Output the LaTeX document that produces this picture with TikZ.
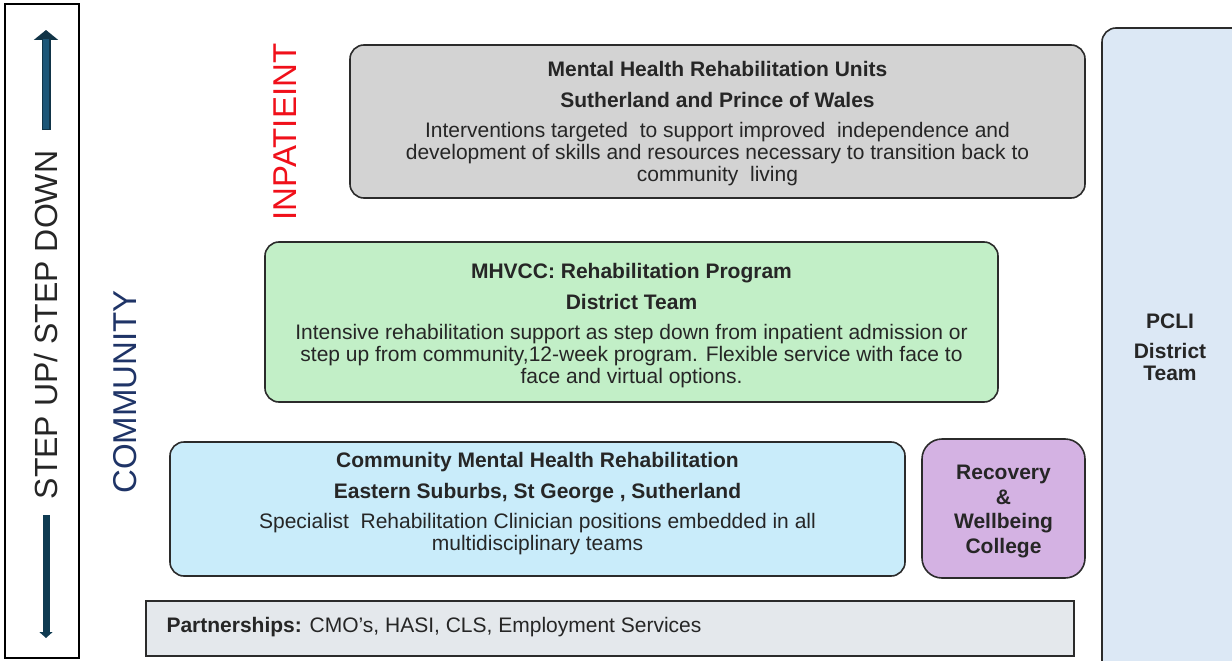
\documentclass[tikz,border=0pt]{standalone}
\usepackage{fontspec}
\setmainfont{Liberation Sans}
\usetikzlibrary{arrows.meta,positioning}
\definecolor{boxText}{HTML}{262626}
\definecolor{boxLine}{HTML}{2B2B2B}
\definecolor{inpatFill}{HTML}{D3D3D3}
\definecolor{mhvccFill}{HTML}{C2EFC7}
\definecolor{cmhrFill}{HTML}{C9ECFA}
\definecolor{rwcFill}{HTML}{D4B2E3}
\definecolor{pcliFill}{HTML}{DCE8F5}
\definecolor{partFill}{HTML}{E4E8EC}
\definecolor{upTeal}{HTML}{1C5677}
\definecolor{downTeal}{HTML}{0F3B52}
\definecolor{commNavy}{HTML}{1F3467}
\definecolor{inpatRed}{HTML}{F0101A}

\begin{document}
\begin{tikzpicture}[x=1pt,y=-1pt,
    tier/.style={draw=boxLine, line width=1.6pt, rounded corners=14pt, inner sep=0pt},
    tiertext/.style={align=center, text=boxText, font=\fontsize{21}{22}\selectfont},
    side/.style={rotate=90, font=\fontsize{33}{36}\selectfont}]
    \useasboundingbox (0,0) rectangle (1232,661);

    % step up / step down frame on the left
    \node[draw, line width=1.4pt, minimum width=74, minimum height=654, inner sep=0pt] (frame) at (42,331) {};
    \coordinate (upS) at (46,130);
    \coordinate (upE) at (46,30);
    \coordinate (downS) at (46,515);
    \coordinate (downE) at (46,638);
    \draw[draw=upTeal!60!black, line width=9pt, -{Triangle[width=24pt,length=10pt]}] (upS) -- (upE);
    \draw[upTeal, line width=6pt, shorten >=9pt, shorten <=1.5pt] (upS) -- (upE);
    \draw[downTeal, line width=7pt, -{Triangle[width=13pt,length=6pt]}] (downS) -- (downE);
    \node[side, font=\fontsize{32}{36}\selectfont, text=boxText] (stepLabel) at (46,325) {STEP UP/ STEP DOWN};

    \node[side, text=commNavy] (commLabel) at (125,392) {COMMUNITY};
    \node[side, text=inpatRed] (inpatLabel) at (285,132) {INPATIEINT};

    % service tiers
    \node[tier, fill=inpatFill, minimum width=735, minimum height=153] (inpat) at (717.5,121.5) {};
    \node[tiertext, yshift=-2] (inpatText) at (inpat.center) {%
        \textbf{Mental Health Rehabilitation Units}\\[9pt]
        \textbf{Sutherland and Prince of Wales}\\[8pt]
        Interventions targeted\ \ to support improved\ \ independence and\\
        development of skills and resources necessary to transition back to\\
        community\ \ living};

    \node[tier, fill=mhvccFill, minimum width=733, minimum height=160] (mhvcc) at (631.5,322) {};
    \node[tiertext, yshift=-4] (mhvccText) at (mhvcc.center) {%
        \textbf{MHVCC: Rehabilitation Program}\\[9pt]
        \textbf{District Team}\\[8pt]
        Intensive rehabilitation support as step down from inpatient admission or\\
        step up from community,12-week program. Flexible service with face to\\
        face and virtual options.};

    \node[tier, fill=cmhrFill, minimum width=735, minimum height=134] (cmhr) at (537.5,509) {};
    \node[tiertext, yshift=5] (cmhrText) at (cmhr.center) {%
        \textbf{Community Mental Health Rehabilitation}\\[9pt]
        \textbf{Eastern Suburbs, St George , Sutherland}\\[8pt]
        Specialist\ \ Rehabilitation Clinician positions embedded in all\\
        multidisciplinary teams};

    \node[tier, fill=rwcFill, rounded corners=20pt, minimum width=163, minimum height=139] (rwc) at (1003.5,508.5) {};
    \node[tiertext, yshift=-3, font=\fontsize{21}{24.7}\selectfont\bfseries] (rwcText) at (rwc.center) {Recovery\\ \&\\ Wellbeing\\ College};

    % district team running the full height
    \node[tier, fill=pcliFill, minimum width=150, minimum height=660] (pcli) at (1177,358) {};
    \node[tiertext, font=\fontsize{21}{22}\selectfont\bfseries] (pcliText) at (1170,347) {PCLI\\[8pt] District\\ Team};

    % partnerships strip
    \node[draw=boxLine, line width=1.4pt, fill=partFill, minimum width=928, minimum height=55, inner sep=0pt] (part) at (610,628.5) {};
    \node[text=boxText, font=\fontsize{21}{22}\selectfont, anchor=west] (partText) at (163,627) {\textbf{Partnerships:} CMO’s, HASI, CLS, Employment Services};
\end{tikzpicture}
\end{document}
